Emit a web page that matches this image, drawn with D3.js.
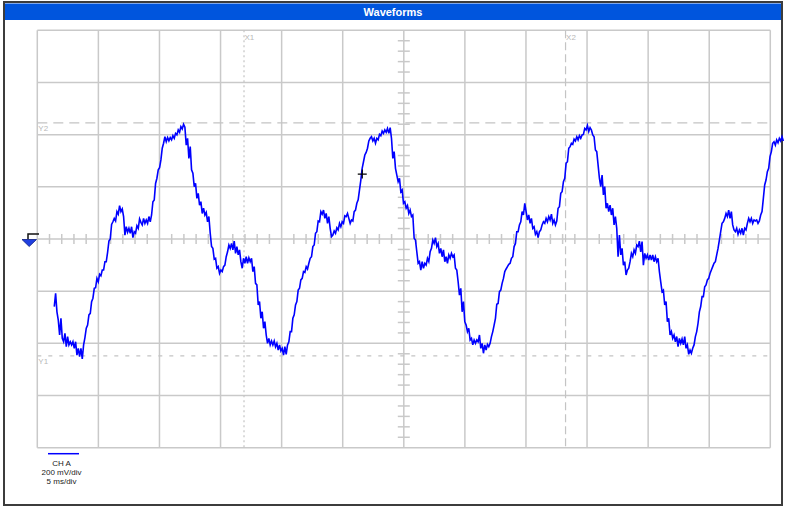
<!DOCTYPE html>
<html><head><meta charset="utf-8">
<script src="https://cdn.jsdelivr.net/npm/d3@7"></script>
<style>body{margin:0;background:#fff}svg{display:block}</style>
</head><body>
<svg id="chart" width="786" height="508"></svg>
<script>
// ---- data ----
const titleText = "Waveforms";
const timeTicksMs = [0,5,10,15,20,25,30,35,40,45,50,55,60];
const voltTicksMv = [-800,-600,-400,-200,0,200,400,600,800];
const timeMinorStepMs = 1;
const voltMinorStepMv = 40;
const cursorXLabels = ["X1","X2"];
const cursorXMs = [16.92, 43.24];
const cursorYLabels = ["Y2","Y1"];
const cursorYMv = [445, -448];
const markerMs = 26.6, markerMv = 249;
const legendLines = ["CH A","200 mV/div","5 ms/div"];
const sampleStartMs = 1.39;
const sampleIntervalMs = 0.1091;
const voltageMv = [
-259,-208,-279,-311,-368,-304,-381,-394,-362,-413,
-374,-406,-394,-406,-394,-419,-394,-445,-419,-451,
-419,-460,-406,-378,-342,-330,-291,-285,-240,-227,
-189,-187,-151,-164,-135,-141,-119,-119,-87,-87,
-51,-8,0,56,66,79,69,105,95,128,
105,115,86,15,47,26,41,22,47,5,
28,22,51,41,77,64,54,79,60,73,
60,86,66,92,143,150,213,233,265,273,
303,348,367,392,373,389,376,389,380,396,
386,405,399,418,409,431,422,440,429,360,
386,309,354,265,252,201,213,156,175,130,
143,98,118,92,102,66,86,22,-29,-36,
-77,-74,-112,-106,-132,-119,-125,-106,-100,-68,
-49,-23,-36,-17,-42,-8,
-55,-29,-61,-42,-87,-112,-74,-93,-68,-93,
-72,-87,-74,-125,-106,-170,-176,-253,-240,-304,
-279,-342,-317,-368,-400,-381,-406,-391,-406,-391,
-413,-400,-426,-406,-429,-419,-445,-413,-442,-406,
-394,-355,-355,-304,-291,-253,-240,-196,-189,-157,
-151,-125,-128,-106,-115,-93,-74,-68,-29,-23,
22,28,69,66,105,95,111,79,98,60,
86,41,9,15,31,22,43,35,60,47,
66,60,89,86,98,79,60,73,69,105,
111,137,150,188,226,271,296,322,332,348,
376,386,392,376,386,367,386,380,401,396,
414,405,418,409,424,405,427,386,309,335,
271,245,220,233,181,188,137,143,118,128,
98,111,86,92,3,
-4,-49,-93,-87,-119,-87,-112,-93,-100,-74,
-87,-49,-36,-4,-17,5,-29,-17,-55,-36,
-68,-42,-87,-68,-93,-61,-74,-55,-68,-61,
-112,-119,-164,-215,-189,-279,-240,-317,-330,-355,
-342,-387,-381,-406,-387,-400,-387,-394,-368,-419,
-400,-438,-406,-426,-404,-413,-400,-374,-355,-330,
-304,-250,-247,-202,-196,-170,-151,-125,-115,-106,
-97,-93,-74,-68,-29,-17,28,28,54,66,
105,92,137,105,73,92,60,79,41,47,
18,28,5,28,35,54,66,60,79,66,
86,73,95,60,73,54,69,118,124,175,
181,220,233,290,296,348,354,367,363,383,
376,392,380,396,386,399,401,424,418,435,
412,427,418,399,392,341,335,284,233,
201,245,169,201,118,137,105,130,92,118,
54,86,41,-68,15,-61,-36,-100,-87,-138,
-119,-112,-87,-55,-68,-42,-55,-23,-29,-8,
-49,-10,-100,-55,-74,-61,-81,-61,-81,-61,
-87,-68,-87,-74,-125,-164,-202,-196,-253,-240,
-317,-304,-368,-355,-381,-368,-394,-374,-413,-381,
-400,-383,-406,-374,-419,-406,-442,-426,-438,-419,
-406,-374,-355,-323,-279,-259,-221,-221,-183,-176,
-157,-151,-132,-119,-106,-93,-87,-61,-36,-4,
28,60,66,79,98,86,111,79,105,54,
35,28,41,18,35,22,41,15,41,35,
60,79,66,79,60,73,69,73,60,69,
92,105,156,207,226,258,271,316,335,367,
373,360,380,369,386,376,392,376
];

// ---- drawing ----
const svg = d3.select("#chart");
const W = 786, H = 508;
const x = d3.scaleLinear().domain([0, 60]).range([37.3, 770.3]);
const y = d3.scaleLinear().domain([-800, 800]).range([447.7, 30.3]);
const gridColor = "#c9c9c9";
const font = "'Liberation Sans', Arial, sans-serif";

svg.append("rect").attr("width", W).attr("height", H).attr("fill", "#fff");
// outer frame
svg.append("rect").attr("x", 4).attr("y", 2).attr("width", 778).attr("height", 503)
  .attr("fill", "#fff").attr("stroke", "#3c3c3c").attr("stroke-width", 2);
// title bar
svg.append("rect").attr("x", 5).attr("y", 3.5).attr("width", 776).attr("height", 16.5)
  .attr("fill", "#0055dd");
svg.append("text").attr("x", W / 2).attr("y", 15.5).attr("text-anchor", "middle")
  .attr("font-family", font).attr("font-size", 11).attr("font-weight", "bold")
  .attr("fill", "#fff").text(titleText);

const g = svg.append("g");
// grid
g.selectAll(".vg").data(timeTicksMs).join("line")
  .attr("x1", d => x(d)).attr("x2", d => x(d)).attr("y1", y(800)).attr("y2", y(-800))
  .attr("stroke", gridColor).attr("stroke-width", 1.5);
g.selectAll(".hg").data(voltTicksMv).join("line")
  .attr("y1", d => y(d)).attr("y2", d => y(d)).attr("x1", x(0)).attr("x2", x(60))
  .attr("stroke", gridColor).attr("stroke-width", 1.5);

// minor ticks on centre axes
const tMinor = d3.range(0, 60 + 1e-9, timeMinorStepMs).filter(t => t % 5 !== 0);
g.selectAll(".tm").data(tMinor).join("line")
  .attr("x1", d => x(d)).attr("x2", d => x(d)).attr("y1", y(0) - 5).attr("y2", y(0) + 5)
  .attr("stroke", gridColor).attr("stroke-width", 1.5);
const vMinor = d3.range(-800, 800 + 1e-9, voltMinorStepMv).filter(v => v % 200 !== 0);
g.selectAll(".vm").data(vMinor).join("line")
  .attr("y1", d => y(d)).attr("y2", d => y(d)).attr("x1", x(30) - 6).attr("x2", x(30) + 6)
  .attr("stroke", gridColor).attr("stroke-width", 1.5);

// cursors
const xDash = ["2,3", "8,4"];
cursorXMs.forEach((t, i) => {
  g.append("line").attr("x1", x(t)).attr("x2", x(t)).attr("y1", y(800)).attr("y2", y(-800))
    .attr("stroke", "#c4c4c4").attr("stroke-width", 1.2).attr("stroke-dasharray", xDash[i]);
  g.append("text").attr("x", x(t) + 0.5).attr("y", 39.5).attr("font-family", font)
    .attr("font-size", 8).attr("fill", "#b8b8b8").text(cursorXLabels[i]);
});
const yDash = ["10,6", "4,7"];
cursorYMv.forEach((v, i) => {
  g.append("line").attr("y1", y(v)).attr("y2", y(v)).attr("x1", x(0)).attr("x2", x(60))
    .attr("stroke", "#c4c4c4").attr("stroke-width", 1.2).attr("stroke-dasharray", yDash[i]);
  g.append("text").attr("x", x(0) + 1).attr("y", y(v) + 8.5).attr("font-family", font)
    .attr("font-size", 8).attr("fill", "#b8b8b8").text(cursorYLabels[i]);
});

// trace
const pts = voltageMv.map((v, i) => [sampleStartMs + i * sampleIntervalMs, v]);
g.append("path").datum(pts)
  .attr("d", d3.line().x(d => x(d[0])).y(d => y(d[1])))
  .attr("fill", "none").attr("stroke", "#0000ff").attr("stroke-width", 1.6)
  .attr("stroke-linejoin", "miter");

// crosshair marker
const mx = x(markerMs), my = y(markerMv);
g.append("path").attr("d", `M${mx - 4.5},${my}H${mx + 4.5}M${mx},${my - 4.5}V${my + 4.5}`)
  .attr("stroke", "#000").attr("stroke-width", 1.2);

// ground-level marker
const gy = y(0);
g.append("path").attr("d", `M28,${gy}V${gy - 5}H39`).attr("fill", "none")
  .attr("stroke", "#111").attr("stroke-width", 1.5);
g.append("path").attr("d", `M22,${gy + 0.5}L36.5,${gy + 0.5}L29.2,${gy + 7.5}Z`)
  .attr("fill", "#1f3fe0").attr("stroke", "#0a1a80").attr("stroke-width", 0.8);

// legend
g.append("line").attr("x1", 48).attr("x2", 79).attr("y1", 453.7).attr("y2", 453.7)
  .attr("stroke", "#0000ff").attr("stroke-width", 1.5);
legendLines.forEach((s, i) => {
  g.append("text").attr("x", 61.5).attr("y", 466 + i * 9.2).attr("text-anchor", "middle")
    .attr("font-family", font).attr("font-size", 8).attr("fill", "#222").text(s);
});
</script>
</body></html>
